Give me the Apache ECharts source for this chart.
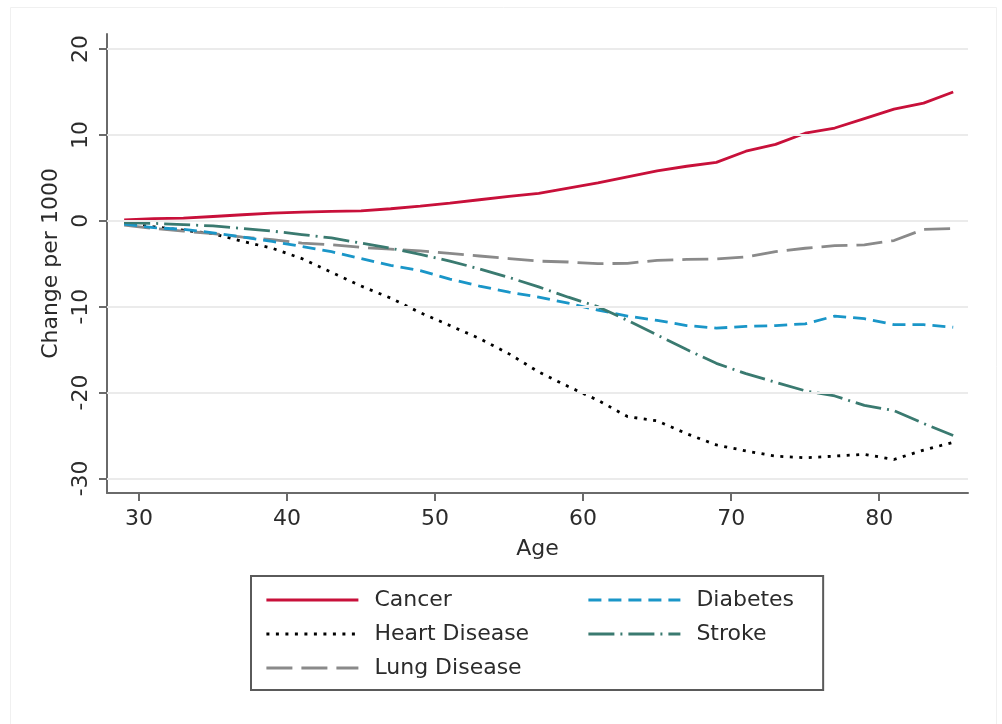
<!DOCTYPE html>
<html>
<head>
<meta charset="utf-8">
<title>Change per 1000 by Age</title>
<script src="https://cdn.jsdelivr.net/npm/echarts@6/dist/echarts.min.js"></script>
<style>
  html, body { margin: 0; padding: 0; background: #fff; }
  #chart { width: 1002px; height: 724px; }
</style>
</head>
<body>
<div id="chart"></div>
<script>
// Ages (odd years 29-85)
const ages = [29, 31, 33, 35, 37, 39, 41, 43, 45, 47, 49, 51, 53, 55, 57,
              59, 61, 63, 65, 67, 69, 71, 73, 75, 77, 79, 81, 83, 85];

// Change per 1000, by cause
const cancer = [0.1, 0.25, 0.3, 0.5, 0.7, 0.9, 1.0, 1.1, 1.15, 1.4, 1.7, 2.05, 2.45, 2.85, 3.2,
                3.8, 4.4, 5.1, 5.8, 6.35, 6.8, 8.1, 8.9, 10.2, 10.8, 11.9, 13.0, 13.7, 15.0];
const heartDisease = [-0.3, -0.7, -1.1, -1.5, -2.4, -3.2, -4.4, -6.0, -7.6, -9.0, -10.7, -12.2, -13.7, -15.5, -17.6,
                      -19.3, -20.9, -22.8, -23.3, -24.8, -26.1, -26.8, -27.4, -27.6, -27.4, -27.2, -27.8, -26.7, -25.8];
const lungDisease = [-0.5, -0.9, -1.2, -1.5, -1.9, -2.2, -2.6, -2.8, -3.1, -3.3, -3.5, -3.8, -4.1, -4.4, -4.7,
                     -4.8, -5.0, -4.95, -4.6, -4.5, -4.45, -4.2, -3.6, -3.2, -2.9, -2.8, -2.3, -1.0, -0.9];
const diabetes = [-0.4, -0.8, -1.0, -1.4, -1.9, -2.4, -3.0, -3.6, -4.4, -5.2, -5.8, -6.8, -7.6, -8.3, -8.9,
                  -9.6, -10.4, -11.1, -11.6, -12.2, -12.5, -12.3, -12.2, -12.0, -11.1, -11.4, -12.1, -12.1, -12.4];
const stroke = [-0.2, -0.3, -0.45, -0.6, -0.9, -1.2, -1.6, -2.0, -2.6, -3.2, -3.9, -4.7, -5.6, -6.6, -7.7,
                -8.9, -10.0, -11.6, -13.3, -15.0, -16.6, -17.8, -18.8, -19.8, -20.4, -21.5, -22.1, -23.6, -25.0];

// Axis tick labels
const xTicks = [30, 40, 50, 60, 70, 80];
const yTicks = [-30, -20, -10, 0, 10, 20];

const FONT = 'DejaVu Sans';
const TEXT = '#2b2b2b';
const AXIS = '#6a6a6a';
const LINE_W = 2.8;

function pairs(ys) {
  return ages.map((a, i) => [a, ys[i]]);
}

function lineSeries(name, ys, color, dash) {
  return {
    name: name,
    type: 'line',
    data: pairs(ys),
    symbol: 'none',
    smooth: false,
    z: 3,
    lineStyle: { color: color, width: LINE_W, type: dash },
    itemStyle: { color: color }
  };
}

const chart = echarts.init(document.getElementById('chart'), null, { renderer: 'canvas' });

// Shared legend look: line keys only, no marker in the middle
const legendCommon = {
  top: 575,
  orient: 'vertical',
  itemWidth: 92,
  itemHeight: 14,
  itemGap: 12,
  selectedMode: false,
  lineStyle: { width: LINE_W },
  itemStyle: { opacity: 0, borderWidth: 0 },
  textStyle: {
    fontFamily: FONT,
    fontSize: 22,
    lineHeight: 22,
    color: TEXT,
    padding: [0, 0, 0, 11]
  }
};

chart.setOption({
  animation: false,
  backgroundColor: '#ffffff',
  textStyle: { fontFamily: FONT },
  graphic: [{
    type: 'rect',
    silent: true,
    z: -10,
    shape: { x: 10.5, y: 7.5, width: 986, height: 720 },
    style: { fill: 'none', stroke: '#f0f0f0', lineWidth: 1 }
  }],
  grid: { left: 107, right: 34, top: 34, bottom: 231, containLabel: false },
  legend: [
    Object.assign({}, legendCommon, {
      left: 251,
      top: 576,
      data: ['Cancer', 'Heart Disease', 'Lung Disease'],
      padding: [13, 294, 11, 14],
      borderColor: '#5a5a5a',
      borderWidth: 2,
      backgroundColor: '#ffffff',
      z: 4
    }),
    Object.assign({}, legendCommon, {
      left: 573,
      top: 576,
      data: ['Diabetes', 'Stroke'],
      padding: [13, 14, 11, 14],
      borderWidth: 0,
      z: 6
    })
  ],
  xAxis: {
    type: 'value',
    min: 27.84,
    max: 86.0,
    name: 'Age',
    nameLocation: 'middle',
    nameGap: 45,
    nameTextStyle: { fontFamily: FONT, fontSize: 22, color: TEXT },
    axisLine: { show: true, onZero: false, lineStyle: { color: AXIS, width: 2 } },
    axisTick: { show: true, length: 8, customValues: xTicks, lineStyle: { color: AXIS, width: 2 } },
    axisLabel: { customValues: xTicks, fontFamily: FONT, fontSize: 22, color: TEXT, margin: 15 },
    splitLine: { show: false }
  },
  yAxis: {
    type: 'value',
    min: -31.7,
    max: 21.75,
    name: 'Change per 1000',
    nameLocation: 'middle',
    nameGap: 43,
    nameTextStyle: { fontFamily: FONT, fontSize: 22, color: TEXT },
    axisLine: { show: true, onZero: false, lineStyle: { color: AXIS, width: 2 } },
    axisTick: { show: true, length: 8, customValues: yTicks, lineStyle: { color: AXIS, width: 2 } },
    axisLabel: { customValues: yTicks, rotate: 90, fontFamily: FONT, fontSize: 22, color: TEXT, margin: 15 },
    splitLine: { show: false }
  },
  series: [
    {
      name: 'gridlines',
      type: 'line',
      data: [],
      z: 1,
      silent: true,
      markLine: {
        silent: true,
        symbol: 'none',
        label: { show: false },
        lineStyle: { color: '#ebebeb', width: 2, type: 'solid' },
        data: yTicks.map(v => ({ yAxis: v }))
      }
    },
    lineSeries('Cancer', cancer, '#c8103a', 'solid'),
    lineSeries('Heart Disease', heartDisease, '#000000', [3, 6.5]),
    lineSeries('Lung Disease', lungDisease, '#8a8a8a', [26, 9]),
    lineSeries('Diabetes', diabetes, '#1a96c8', [13, 7]),
    lineSeries('Stroke', stroke, '#3a7a70', [26, 6, 2, 6])
  ]
});
</script>
</body>
</html>
